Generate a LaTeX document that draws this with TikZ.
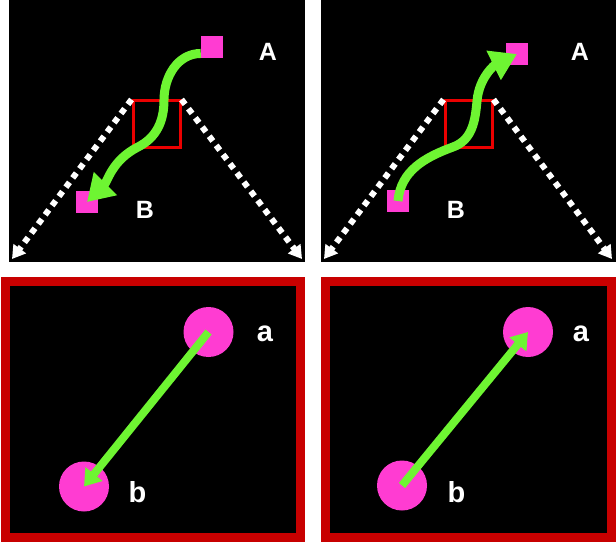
\documentclass[tikz,border=0pt]{standalone}
\usepackage{fontspec}
\setsansfont{Liberation Sans}
\usepackage{tikz}
\usetikzlibrary{arrows.meta,positioning,calc}

\definecolor{pinkdot}{RGB}{255,60,210}
\definecolor{limeflow}{RGB}{110,245,50}
\definecolor{boxred}{RGB}{235,0,0}
\definecolor{framered}{RGB}{200,0,0}

\begin{document}
\begin{tikzpicture}[
    x=1pt, y=1pt,
    panel/.style={fill=black,draw=none},
    zoomframe/.style={fill=black,draw=framered,line width=9pt},
    spot/.style={draw=boxred,line width=3pt,minimum size=47pt,inner sep=0pt},
    sq/.style={fill=pinkdot,minimum size=22pt,inner sep=0pt},
    disc/.style={circle,fill=pinkdot,minimum size=50pt,inner sep=0pt},
    biglabel/.style={text=white,inner sep=0pt,
                     font=\sffamily\bfseries\fontsize{25}{25}\selectfont},
    lowlabel/.style={text=white,inner sep=0pt,
                     font=\sffamily\bfseries\fontsize{29}{29}\selectfont},
    sideline/.style={-{Triangle[length=13pt,width=15pt]},white,line width=6pt,
                     dash pattern=on 6pt off 5.5pt},
    flow/.style={-{Triangle[length=26pt,width=31pt]},limeflow,line width=9pt},
    pull/.style={-{Triangle[length=16pt,width=21pt]},limeflow,line width=8pt},
  ]

  \useasboundingbox[fill=white] (0,0) rectangle (616,542);

  % --- four panels ---
  \fill[panel] (9,280) rectangle (305,542);
  \fill[panel] (321,280) rectangle (616,542);
  \draw[zoomframe] (5.5,4.5) rectangle (300.5,260.5);
  \draw[zoomframe] (325.5,4.5) rectangle (611.5,260.5);

  % --- top left: A -> B ---
  \node[spot] (box1) at (156.5,417.5) {};
  \coordinate (end1l) at (12,283);
  \coordinate (end1r) at (302,283);
  \draw[sideline] (box1.north west) -- (end1l);
  \draw[sideline] (box1.north east) -- (end1r);
  \node[sq] (a1) at (212,495) {};
  \node[sq] (b1) at (87,340) {};
  \node[biglabel] (la1) at (268,490) {A};
  \node[biglabel] (lb1) at (145,332) {B};
  \coordinate (m1) at (164,442);
  \coordinate (m2) at (138,395);
  \draw[flow] (a1.-150) to[out=180,in=90] (m1) to[out=-90,in=27] (m2)
    to[out=207,in=45] (b1.center);

  % --- top right: B -> A ---
  \node[spot] (box2) at (468.5,417.5) {};
  \coordinate (end2l) at (324,283);
  \coordinate (end2r) at (612,283);
  \draw[sideline] (box2.north west) -- (end2l);
  \draw[sideline] (box2.north east) -- (end2r);
  \node[sq] (a2) at (517,488) {};
  \node[sq] (b2) at (398,341) {};
  \node[biglabel] (la2) at (580,490) {A};
  \node[biglabel] (lb2) at (456,332) {B};
  \coordinate (m3) at (453,395);
  \coordinate (m4) at (477,441);
  \draw[flow] (b2.center) to[out=85,in=200] (m3) to[out=20,in=-95] (m4)
    to[out=85,in=206] (a2.center);

  % --- bottom left: zoomed a -> b ---
  \node[disc] (ca1) at (208.5,210) {};
  \node[disc] (cb1) at (84,55.5) {};
  \node[lowlabel] (lla1) at (265,208.5) {a};
  \node[lowlabel] (llb1) at (137.5,50) {b};
  \draw[pull] (ca1.center) -- (cb1.center);

  % --- bottom right: zoomed b -> a ---
  \node[disc] (ca2) at (528,210) {};
  \node[disc] (cb2) at (402,56.5) {};
  \node[lowlabel] (lla2) at (581,208.5) {a};
  \node[lowlabel] (llb2) at (456.5,50) {b};
  \draw[pull] (cb2.center) -- (ca2.center);

\end{tikzpicture}
\end{document}
